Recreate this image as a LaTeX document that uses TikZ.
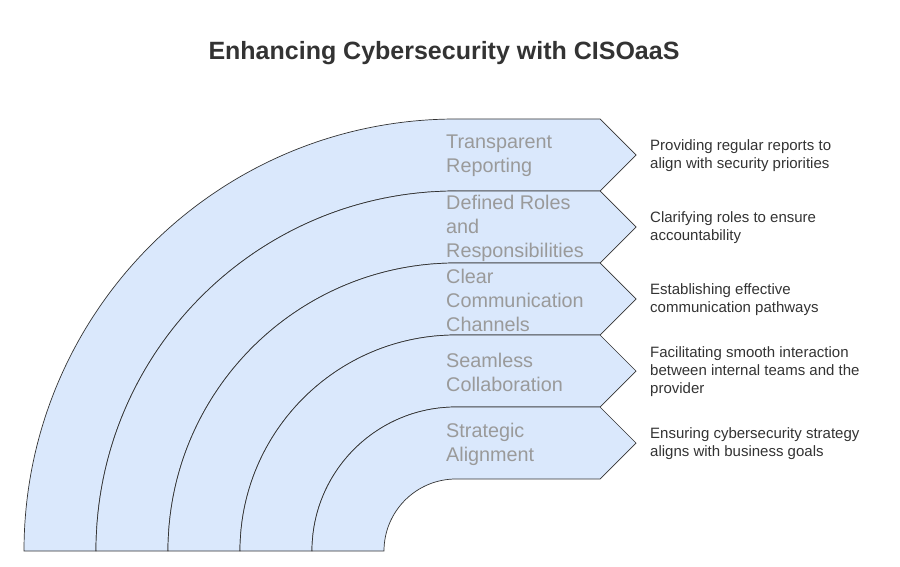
\documentclass[tikz,border=0pt]{standalone}
\usepackage{fontspec}
\setmainfont{Liberation Sans}
\definecolor{bandfill}{HTML}{DAE8FC}
\definecolor{bandline}{HTML}{333333}
\definecolor{labelgray}{HTML}{9A9A9A}
\definecolor{descgray}{HTML}{333333}
\tikzset{
  band/.style={fill=bandfill,draw=bandline,line width=0.7pt},
  bandlabel/.style={anchor=west,align=left,text=labelgray,inner sep=0pt,font=\fontsize{19.8}{24}\selectfont},
  desc/.style={anchor=west,align=left,text=descgray,inner sep=0pt,font=\fontsize{15}{18}\selectfont}
}
\begin{document}
\begin{tikzpicture}[x=1pt,y=-1pt]
    \useasboundingbox (0,0) rectangle (900,567);
    \node[font=\bfseries\fontsize{25}{30}\selectfont,text=descgray] (title) at (444,53) {Enhancing Cybersecurity with CISOaaS};
    % bands, outer to inner
    \foreach \R/\i in {432/1,360/2,288/3,216/4,144/5}{
      \pgfmathsetmacro\r{\R-72}
      \draw[band] (456-\R,551) arc[start angle=180,end angle=90,x radius=\R,y radius=-\R]
        -- (600,551-\R) -- (636,551-\R+36) -- (600,551-\R+72) -- (456,551-\R+72)
        arc[start angle=90,end angle=180,x radius=\r,y radius=-\r] -- cycle;
    }
    \node[bandlabel] (l1) at (446,156) {Transparent\\Reporting};
    \node[bandlabel] (l2) at (446,228) {Defined Roles\\and\\Responsibilities};
    \node[bandlabel] (l3) at (446,300) {Clear\\Communication\\Channels};
    \node[bandlabel] (l4) at (446,372) {Seamless\\Collaboration};
    \node[bandlabel] (l5) at (446,444) {Strategic\\Alignment};
    \node[desc] (d1) at (650,156) {Providing regular reports to\\align with security priorities};
    \node[desc] (d2) at (650,228) {Clarifying roles to ensure\\accountability};
    \node[desc] (d3) at (650,300) {Establishing effective\\communication pathways};
    \node[desc] (d4) at (650,372) {Facilitating smooth interaction\\between internal teams and the\\provider};
    \node[desc] (d5) at (650,444) {Ensuring cybersecurity strategy\\aligns with business goals};
\end{tikzpicture}
\end{document}
